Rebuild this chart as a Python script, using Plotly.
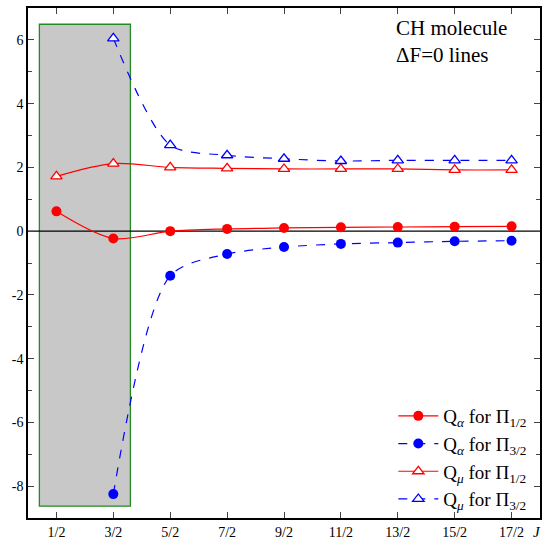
import plotly.graph_objects as go

J_labels = ["1/2", "3/2", "5/2", "7/2", "9/2", "11/2", "13/2", "15/2", "17/2"]
J_all = [0.5, 1.5, 2.5, 3.5, 4.5, 5.5, 6.5, 7.5, 8.5]
J_from32 = J_all[1:]

qa_pi12 = [0.62, -0.23, 0.0, 0.07, 0.10, 0.12, 0.13, 0.14, 0.15]
qa_pi32 = [-8.25, -1.40, -0.72, -0.50, -0.40, -0.36, -0.32, -0.30]
qm_pi12 = [1.72, 2.12, 2.00, 1.97, 1.95, 1.95, 1.95, 1.92, 1.92]
qm_pi32 = [6.05, 2.70, 2.38, 2.27, 2.20, 2.22, 2.22, 2.22]

FONT = "Liberation Serif"

fig = go.Figure()
fig.add_trace(go.Scatter(x=J_all, y=qa_pi12, mode="lines+markers",
    name="Q<sub><i>α</i></sub> for Π<sub>1/2</sub>",
    line=dict(color="red", width=1.2, shape="spline", smoothing=0.9),
    marker=dict(symbol="circle", size=10, color="red")))
fig.add_trace(go.Scatter(x=J_from32, y=qa_pi32, mode="lines+markers",
    name="Q<sub><i>α</i></sub> for Π<sub>3/2</sub>",
    line=dict(color="blue", width=1.2, shape="spline", smoothing=0.8, dash="dash"),
    marker=dict(symbol="circle", size=10, color="blue")))
fig.add_trace(go.Scatter(x=J_all, y=qm_pi12, mode="lines+markers",
    name="Q<sub><i>μ</i></sub> for Π<sub>1/2</sub>",
    line=dict(color="red", width=1.2, shape="spline", smoothing=0.9),
    marker=dict(symbol="triangle-up", size=10, color="white",
                line=dict(color="red", width=1.3))))
fig.add_trace(go.Scatter(x=J_from32, y=qm_pi32, mode="lines+markers",
    name="Q<sub><i>μ</i></sub> for Π<sub>3/2</sub>",
    line=dict(color="blue", width=1.2, shape="spline", smoothing=0.8, dash="dash"),
    marker=dict(symbol="triangle-up", size=10, color="white",
                line=dict(color="blue", width=1.3))))

fig.add_shape(type="rect", x0=0.2, x1=1.8, y0=-8.63, y1=6.49,
              fillcolor="#c8c8c8", line=dict(color="#228b22", width=1.3), layer="below")
fig.add_shape(type="line", x0=0, x1=9, y0=0, y1=0,
              line=dict(color="black", width=1.3), layer="below")

fig.add_annotation(x=0.94, y=1.0, xref="paper", yref="paper", xanchor="right", yanchor="top",
                   yshift=-6,
                   text="CH molecule<br>ΔF=0 lines", showarrow=False, align="left",
                   font=dict(family=FONT, size=21, color="black"))
fig.add_annotation(x=1.0, y=0, xref="paper", yref="paper", xanchor="right", yanchor="top",
                   xshift=3, yshift=-4,
                   text="<i>J</i>", showarrow=False, font=dict(family=FONT, size=15, color="black"))

fig.update_layout(
    width=545, height=540,
    margin=dict(l=28, r=5, t=8, b=22, autoexpand=False),
    plot_bgcolor="white", paper_bgcolor="white",
    font=dict(family=FONT, size=14, color="black"),
    showlegend=True,
    legend=dict(x=0.985, y=0.0, xanchor="right", yanchor="bottom",
                bgcolor="rgba(0,0,0,0)", font=dict(family=FONT, size=19),
                tracegroupgap=0, itemwidth=40),
    xaxis=dict(range=[0, 9], tickvals=J_all, ticktext=J_labels, ticks="inside", ticklen=6,
               showline=True, linecolor="black", linewidth=1.5, mirror="ticks",
               showgrid=False, zeroline=False, tickfont=dict(size=14), ticklabelstandoff=0,
               automargin=False),
    yaxis=dict(range=[-9, 7], tickvals=[-8, -6, -4, -2, 0, 2, 4, 6],
               ticktext=["-8", "-6", "-4", "-2", "0", "2", "4", "6"],
               ticks="inside", ticklen=6, automargin=False,
               showline=True, linecolor="black", linewidth=1.5, mirror="ticks",
               showgrid=False, zeroline=False, tickfont=dict(size=14),
               minor=dict(tickvals=[-9, -7, -5, -3, -1, 1, 3, 5], ticks="inside", ticklen=4,
                          showgrid=False)),
)

fig.write_html("out.html")
